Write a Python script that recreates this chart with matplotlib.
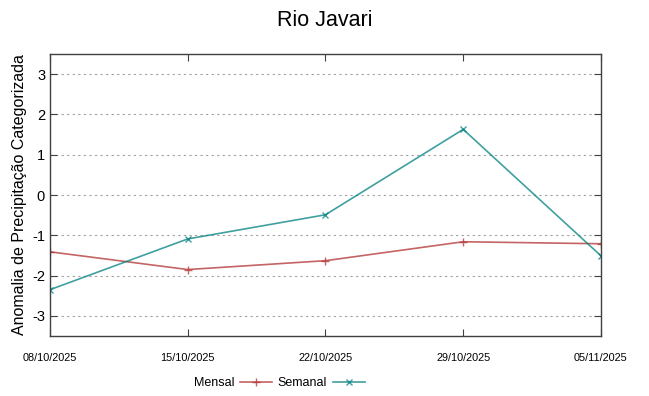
import datetime as dt

import matplotlib
matplotlib.use("Agg")
import matplotlib.dates as mdates
import matplotlib.pyplot as plt

dates = ["08/10/2025", "15/10/2025", "22/10/2025", "29/10/2025", "05/11/2025"]
mensal = [-1.41, -1.85, -1.63, -1.16, -1.21]
semanal = [-2.35, -1.09, -0.49, 1.63, -1.51]
yticks = [-3, -2, -1, 0, 1, 2, 3]

plt.rcParams["font.family"] = ["Liberation Sans", "DejaVu Sans"]
plt.rcParams["axes.unicode_minus"] = False
narrow = ["Liberation Sans Narrow", "Liberation Sans", "DejaVu Sans"]

x = [dt.datetime.strptime(d, "%d/%m/%Y") for d in dates]

fig = plt.figure(figsize=(6.49, 3.96), dpi=100)
ax = fig.add_axes([0.077, 0.1515, 0.849, 0.712])

ax.plot(x, mensal, color="#b03030", alpha=0.75, lw=1.2, marker="+", ms=6,
        mew=1, label="Mensal")
ax.plot(x, semanal, color="#008080", alpha=0.75, lw=1.2, marker="x", ms=5,
        mew=1, label="Semanal")

ax.set_xlim(x[0], x[-1])
ax.set_ylim(-3.5, 3.5)
ax.set_yticks(yticks)
ax.set_xticks(x)
ax.xaxis.set_major_formatter(mdates.DateFormatter("%d/%m/%Y"))
ax.yaxis.grid(True, linestyle=(0, (2, 3)), color="#a0a0a0", lw=0.8)
ax.tick_params(direction="in", length=5, color="#404040", top=True, right=True,
               labelsize=10.5)
ax.tick_params(axis="x", pad=12)
for lbl in ax.get_xticklabels():
    lbl.set_fontfamily(narrow)
    lbl.set_fontsize(7.8)
for s in ax.spines.values():
    s.set_color("#404040")
    s.set_linewidth(1)

ax.set_ylabel("Anomalia de Precipitação Categorizada", fontsize=11.5, labelpad=4)
fig.suptitle("Rio Javari", fontsize=15.5, y=0.975)

fig.legend(loc="center", bbox_to_anchor=(0.43, 0.033), ncol=2, frameon=False,
           markerfirst=False, handlelength=2.5, handletextpad=0.5,
           columnspacing=0.5, prop={"family": narrow, "size": 9})

fig.savefig("out.png", dpi=100)
